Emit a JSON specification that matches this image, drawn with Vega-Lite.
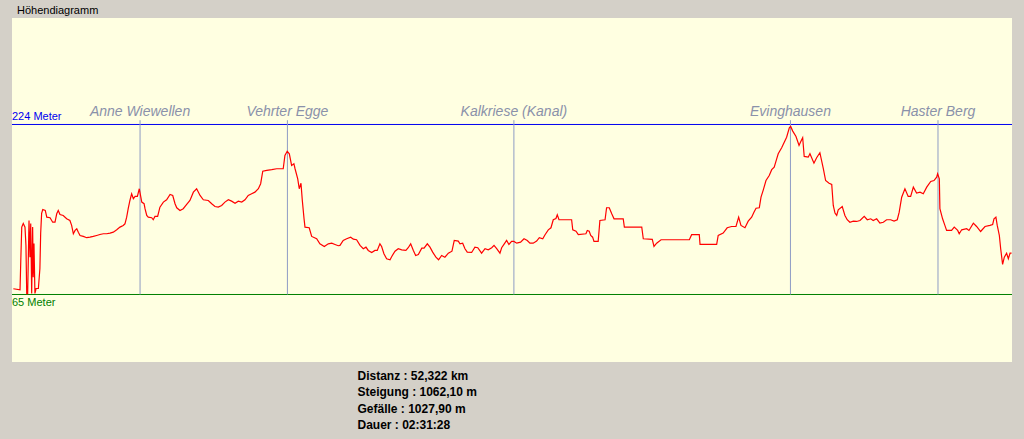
{
  "$schema": "https://vega.github.io/schema/vega-lite/v6.json",
  "width": 1000,
  "height": 344,
  "autosize": {"type": "none"},
  "padding": {"left": 12, "top": 18, "right": 12, "bottom": 77},
  "background": "#D4D0C8",
  "config": {
    "view": {"stroke": null, "fill": "#FFFFE1"},
    "font": "Liberation Sans"
  },
  "title": {
    "text": "Höhendiagramm",
    "anchor": "start",
    "frame": "group",
    "orient": "top",
    "baseline": "bottom",
    "offset": 4,
    "dx": 5,
    "dy": 13,
    "fontSize": 11,
    "fontWeight": "normal",
    "font": "Liberation Sans",
    "color": "#000000"
  },
  "datasets": {
    "profile": [
      {"km":0.07,"m":70.4},{"km":0.42,"m":69.4},{"km":0.46,"m":96.8},{"km":0.51,"m":128},{"km":0.59,"m":131.4},{"km":0.68,"m":128},{"km":0.73,"m":110.9},{"km":0.77,"m":65.7},{"km":0.82,"m":65.7},{"km":0.89,"m":134.2},{"km":0.94,"m":99.9},{"km":0.98,"m":131.4},{"km":1.03,"m":66},{"km":1.08,"m":128},{"km":1.11,"m":81.2},{"km":1.15,"m":112.7},{"km":1.2,"m":66},{"km":1.26,"m":70.6},{"km":1.38,"m":70.6},{"km":1.46,"m":89.3},{"km":1.5,"m":122.1},{"km":1.55,"m":140.8},{"km":1.61,"m":144.5},{"km":1.74,"m":143.6},{"km":1.82,"m":137.3},{"km":1.99,"m":136.8},{"km":2.13,"m":132.6},{"km":2.25,"m":132.6},{"km":2.34,"m":140.5},{"km":2.42,"m":143.6},{"km":2.51,"m":139.8},{"km":2.68,"m":138.9},{"km":2.86,"m":135.8},{"km":3.03,"m":134.2},{"km":3.12,"m":129.6},{"km":3.21,"m":121.8},{"km":3.3,"m":124.9},{"km":3.39,"m":126.5},{"km":3.47,"m":123.3},{"km":3.56,"m":120.2},{"km":3.73,"m":119.3},{"km":3.91,"m":118.1},{"km":4.08,"m":118.6},{"km":4.25,"m":119.3},{"km":4.43,"m":120.2},{"km":4.6,"m":121.1},{"km":4.78,"m":121.8},{"km":4.95,"m":121.8},{"km":5.13,"m":122.4},{"km":5.3,"m":123.3},{"km":5.48,"m":125.5},{"km":5.65,"m":128},{"km":5.82,"m":129.6},{"km":5.91,"m":131.1},{"km":6.0,"m":137.3},{"km":6.08,"m":145.2},{"km":6.17,"m":152.9},{"km":6.26,"m":159.2},{"km":6.35,"m":154.5},{"km":6.44,"m":156.7},{"km":6.56,"m":156.7},{"km":6.66,"m":163.9},{"km":6.79,"m":151.4},{"km":6.91,"m":149.9},{"km":6.96,"m":145.2},{"km":7.05,"m":138.9},{"km":7.13,"m":137.3},{"km":7.31,"m":136.8},{"km":7.39,"m":134.9},{"km":7.48,"m":138},{"km":7.62,"m":138},{"km":7.74,"m":146.7},{"km":7.92,"m":151.4},{"km":8.09,"m":153.6},{"km":8.27,"m":158.6},{"km":8.41,"m":157.6},{"km":8.53,"m":149.9},{"km":8.62,"m":146.1},{"km":8.79,"m":143.6},{"km":8.96,"m":145.2},{"km":9.14,"m":149.2},{"km":9.31,"m":152.9},{"km":9.49,"m":160.7},{"km":9.66,"m":163.9},{"km":9.84,"m":157.6},{"km":10.01,"m":153.6},{"km":10.27,"m":152.9},{"km":10.45,"m":149.9},{"km":10.62,"m":147.3},{"km":10.79,"m":146.7},{"km":10.97,"m":148.3},{"km":11.14,"m":151.4},{"km":11.32,"m":153.6},{"km":11.49,"m":152.3},{"km":11.67,"m":150.4},{"km":11.84,"m":152.3},{"km":12.02,"m":151.4},{"km":12.19,"m":153.6},{"km":12.36,"m":157.6},{"km":12.54,"m":159.2},{"km":12.71,"m":160.7},{"km":12.89,"m":163.9},{"km":13.01,"m":168.6},{"km":13.12,"m":180.3},{"km":13.33,"m":181},{"km":13.59,"m":181.7},{"km":13.85,"m":182.6},{"km":14.19,"m":182.6},{"km":14.28,"m":195},{"km":14.4,"m":199},{"km":14.51,"m":196.6},{"km":14.63,"m":185.7},{"km":14.75,"m":187.3},{"km":14.81,"m":182.6},{"km":14.95,"m":173.2},{"km":15.03,"m":163.9},{"km":15.12,"m":169.1},{"km":15.19,"m":152.9},{"km":15.28,"m":135.8},{"km":15.33,"m":128},{"km":15.55,"m":127.4},{"km":15.68,"m":119.3},{"km":15.94,"m":117.1},{"km":16.11,"m":112.4},{"km":16.34,"m":109.9},{"km":16.55,"m":112.4},{"km":16.73,"m":113},{"km":16.9,"m":111.8},{"km":17.07,"m":110.6},{"km":17.16,"m":110.9},{"km":17.33,"m":115.5},{"km":17.51,"m":117.1},{"km":17.72,"m":118.6},{"km":17.86,"m":116.7},{"km":18.03,"m":116.2},{"km":18.21,"m":110.9},{"km":18.38,"m":107.8},{"km":18.52,"m":109.3},{"km":18.64,"m":106.2},{"km":18.82,"m":104.3},{"km":18.99,"m":106.2},{"km":19.11,"m":106.2},{"km":19.25,"m":112.4},{"km":19.34,"m":109.9},{"km":19.46,"m":103.1},{"km":19.6,"m":98.4},{"km":19.78,"m":97.5},{"km":19.87,"m":100.6},{"km":20.04,"m":105.5},{"km":20.21,"m":107.8},{"km":20.39,"m":106.8},{"km":20.61,"m":106.2},{"km":20.73,"m":108.7},{"km":20.86,"m":112.4},{"km":21.0,"m":106.2},{"km":21.12,"m":101.5},{"km":21.26,"m":102.4},{"km":21.44,"m":108.3},{"km":21.56,"m":108.3},{"km":21.73,"m":112.4},{"km":21.87,"m":109.3},{"km":22.01,"m":104.6},{"km":22.18,"m":99.9},{"km":22.32,"m":97.5},{"km":22.48,"m":101.5},{"km":22.65,"m":99.9},{"km":22.83,"m":103.6},{"km":23.02,"m":105.5},{"km":23.14,"m":115.5},{"km":23.35,"m":114.9},{"km":23.44,"m":112.4},{"km":23.58,"m":113},{"km":23.7,"m":107.8},{"km":23.82,"m":104.6},{"km":24.05,"m":104.3},{"km":24.22,"m":109.3},{"km":24.37,"m":108.7},{"km":24.57,"m":103.6},{"km":24.75,"m":107.8},{"km":24.92,"m":106.8},{"km":25.1,"m":108.7},{"km":25.22,"m":110.9},{"km":25.36,"m":107.8},{"km":25.53,"m":103.6},{"km":25.62,"m":108.7},{"km":25.74,"m":111.8},{"km":25.88,"m":115.5},{"km":26.0,"m":111.8},{"km":26.14,"m":114.6},{"km":26.26,"m":114.6},{"km":26.41,"m":113},{"km":26.61,"m":113.9},{"km":26.79,"m":117.1},{"km":26.96,"m":115.5},{"km":27.1,"m":113},{"km":27.27,"m":113},{"km":27.45,"m":114.9},{"km":27.59,"m":118.1},{"km":27.77,"m":117.1},{"km":27.89,"m":120.9},{"km":28.06,"m":125.5},{"km":28.2,"m":127.4},{"km":28.32,"m":134.9},{"km":28.46,"m":136.1},{"km":28.53,"m":139.6},{"km":28.62,"m":134.9},{"km":29.28,"m":134.9},{"km":29.34,"m":125.5},{"km":29.51,"m":124.2},{"km":29.63,"m":121.1},{"km":30.03,"m":121.8},{"km":30.1,"m":124.9},{"km":30.2,"m":124.2},{"km":30.28,"m":120.2},{"km":30.38,"m":118.6},{"km":30.45,"m":114.6},{"km":30.67,"m":114.6},{"km":30.76,"m":134.2},{"km":31.03,"m":134.9},{"km":31.11,"m":146.1},{"km":31.25,"m":146.1},{"km":31.38,"m":140.5},{"km":31.5,"m":135.8},{"km":31.98,"m":135.8},{"km":32.04,"m":128},{"km":32.95,"m":128},{"km":33.03,"m":117.1},{"km":33.5,"m":116.5},{"km":33.59,"m":109.9},{"km":33.73,"m":113},{"km":33.96,"m":116.2},{"km":34.52,"m":116.2},{"km":35.44,"m":116.2},{"km":35.56,"m":120.9},{"km":35.96,"m":120.9},{"km":36.0,"m":111.8},{"km":36.87,"m":111.8},{"km":36.95,"m":120.2},{"km":37.21,"m":122.4},{"km":37.42,"m":127.4},{"km":37.65,"m":128.6},{"km":37.88,"m":128.6},{"km":38.02,"m":137.3},{"km":38.14,"m":129.6},{"km":38.35,"m":127.4},{"km":38.52,"m":133.6},{"km":38.7,"m":137.3},{"km":38.82,"m":142},{"km":38.93,"m":145.7},{"km":39.1,"m":146.1},{"km":39.19,"m":156},{"km":39.31,"m":162.9},{"km":39.45,"m":171.6},{"km":39.62,"m":176.3},{"km":39.75,"m":181.7},{"km":39.88,"m":184.1},{"km":40.01,"m":191.9},{"km":40.09,"m":196.6},{"km":40.27,"m":202.2},{"km":40.35,"m":205.3},{"km":40.53,"m":212.1},{"km":40.67,"m":220.9},{"km":40.74,"m":222.2},{"km":40.85,"m":217.8},{"km":41.02,"m":212.8},{"km":41.18,"m":204.4},{"km":41.26,"m":207.5},{"km":41.37,"m":211.6},{"km":41.45,"m":194.1},{"km":41.66,"m":193.4},{"km":41.75,"m":196.6},{"km":41.96,"m":187.8},{"km":42.1,"m":192.9},{"km":42.27,"m":197.6},{"km":42.45,"m":182.6},{"km":42.57,"m":171.6},{"km":42.75,"m":169.1},{"km":42.89,"m":167.9},{"km":42.97,"m":148.3},{"km":43.06,"m":141.1},{"km":43.15,"m":138.9},{"km":43.23,"m":144.2},{"km":43.44,"m":147.3},{"km":43.58,"m":138.9},{"km":43.7,"m":134.9},{"km":43.84,"m":132.6},{"km":44.02,"m":133.6},{"km":44.19,"m":133.3},{"km":44.37,"m":134.2},{"km":44.59,"m":138},{"km":44.75,"m":134.9},{"km":44.93,"m":135.8},{"km":45.06,"m":134.2},{"km":45.24,"m":135.8},{"km":45.41,"m":131.7},{"km":45.59,"m":132.6},{"km":45.76,"m":134.9},{"km":45.97,"m":134.9},{"km":46.15,"m":133.6},{"km":46.32,"m":134.9},{"km":46.42,"m":142},{"km":46.55,"m":156},{"km":46.72,"m":163.9},{"km":46.89,"m":156.7},{"km":47.02,"m":156.7},{"km":47.16,"m":165.4},{"km":47.33,"m":159.8},{"km":47.51,"m":160.7},{"km":47.68,"m":159.2},{"km":47.86,"m":165.4},{"km":48.07,"m":170.7},{"km":48.24,"m":171.6},{"km":48.38,"m":174.7},{"km":48.43,"m":177.9},{"km":48.52,"m":173.2},{"km":48.55,"m":145.2},{"km":48.69,"m":135.8},{"km":48.81,"m":129.6},{"km":48.9,"m":124.9},{"km":49.16,"m":124.9},{"km":49.3,"m":128},{"km":49.48,"m":124.9},{"km":49.56,"m":121.8},{"km":49.69,"m":125.5},{"km":49.95,"m":126.5},{"km":50.07,"m":124.9},{"km":50.3,"m":131.7},{"km":50.47,"m":128.6},{"km":50.68,"m":123.9},{"km":50.91,"m":128.6},{"km":51.17,"m":129.6},{"km":51.31,"m":130.5},{"km":51.38,"m":135.8},{"km":51.48,"m":137.3},{"km":51.55,"m":129.6},{"km":51.66,"m":120.2},{"km":51.73,"m":107.8},{"km":51.83,"m":93.1},{"km":51.92,"m":99.9},{"km":52.04,"m":103.6},{"km":52.13,"m":98.4},{"km":52.22,"m":103.6},{"km":52.3,"m":103.6}
    ],
    "waypoints": [
      {"name": "Anne Wiewellen", "km": 6.7},
      {"name": "Vehrter Egge", "km": 14.41},
      {"name": "Kalkriese (Kanal)", "km": 26.26},
      {"name": "Evinghausen", "km": 40.73},
      {"name": "Haster Berg", "km": 48.45}
    ],
    "limits": [
      {"label": "224 Meter", "m": 224, "kind": "max"},
      {"label": "65 Meter", "m": 65, "kind": "min"}
    ]
  },
  "layer": [
    {
      "data": {"name": "limits"},
      "mark": {"type": "rule", "strokeWidth": 1},
      "encoding": {
        "y": {"field": "m", "type": "quantitative", "scale": {"domain": [1.87, 323.57], "nice": false, "zero": false}, "axis": null},
        "color": {"field": "kind", "type": "nominal", "scale": {"domain": ["max", "min"], "range": ["#0000F0", "#008000"]}, "legend": null}
      }
    },
    {
      "data": {"name": "waypoints"},
      "mark": {"type": "rule", "color": "#8E9CC4", "strokeWidth": 1},
      "encoding": {
        "x": {"field": "km", "type": "quantitative", "scale": {"domain": [0, 52.322], "nice": false, "zero": false}},
        "y": {"datum": 228, "type": "quantitative"},
        "y2": {"datum": 65}
      }
    },
    {
      "data": {"name": "profile"},
      "mark": {"type": "line", "color": "#FF0000", "strokeWidth": 1.2, "interpolate": "linear"},
      "encoding": {
        "x": {
          "field": "km",
          "type": "quantitative",
          "axis": {
            "domain": false, "ticks": false, "labels": false, "grid": false,
            "title": ["Distanz : 52,322 km", "Steigung : 1062,10 m", "Gefälle : 1027,90 m", "Dauer : 02:31:28"],
            "titleAnchor": "start",
            "titleAlign": "left",
            "titleBaseline": "top",
            "titleX": 345,
            "titleY": 8,
            "titleLineHeight": 16.5,
            "titleFontSize": 12,
            "titleFontWeight": "bold",
            "titleFont": "Liberation Sans",
            "titleColor": "#000000"
          }
        },
        "y": {"field": "m", "type": "quantitative"}
      }
    },
    {
      "data": {"name": "waypoints"},
      "mark": {"type": "text", "font": "Liberation Sans", "fontStyle": "italic", "fontSize": 14, "color": "#8A91AA", "align": "center", "baseline": "alphabetic", "dy": -8},
      "encoding": {
        "x": {"field": "km", "type": "quantitative"},
        "y": {"datum": 224, "type": "quantitative"},
        "text": {"field": "name"}
      }
    },
    {
      "data": {"name": "limits"},
      "transform": [{"filter": "datum.kind === 'max'"}],
      "mark": {"type": "text", "font": "Liberation Sans", "fontSize": 11, "align": "left", "baseline": "middle", "dy": -7, "color": "#0000F0"},
      "encoding": {
        "x": {"datum": 0, "type": "quantitative"},
        "y": {"field": "m", "type": "quantitative"},
        "text": {"field": "label", "type": "nominal"}
      }
    },
    {
      "data": {"name": "limits"},
      "transform": [{"filter": "datum.kind === 'min'"}],
      "mark": {"type": "text", "font": "Liberation Sans", "fontSize": 11, "align": "left", "baseline": "middle", "dy": 9, "color": "#008000"},
      "encoding": {
        "x": {"datum": 0, "type": "quantitative"},
        "y": {"field": "m", "type": "quantitative"},
        "text": {"field": "label", "type": "nominal"}
      }
    }
  ]
}
